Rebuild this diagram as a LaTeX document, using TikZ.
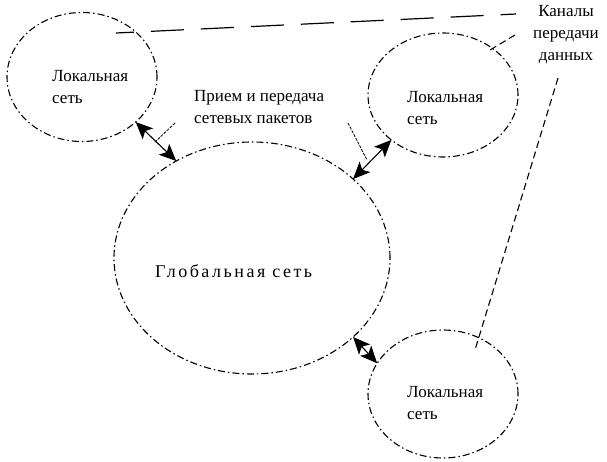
\documentclass[tikz,border=0pt]{standalone}
\usepackage{fontspec}
\setmainfont{Liberation Serif}
\usetikzlibrary{shapes.geometric,arrows.meta}
\tikzset{
  net/.style={ellipse, draw, line width=1.1pt, dash pattern=on 7pt off 3pt on 1.5pt off 3pt, inner sep=0pt, outer sep=0pt},
  lbl/.style={inner sep=0pt, font=\fontsize{17}{22}\selectfont},
  biarrow/.style={line width=1.1pt, {Stealth[length=17pt,width=15pt,inset=4pt]}-{Stealth[length=17pt,width=15pt,inset=4pt]}},
  pointer/.style={line width=0.8pt, dash pattern=on 3pt off 1.2pt},
  chanlong/.style={line width=1.2pt, dash pattern=on 33pt off 17pt, dash phase=15pt},
  chan/.style={line width=1.1pt, dash pattern=on 7pt off 4pt}
}
\begin{document}
\begin{tikzpicture}[x=1pt,y=-1pt]
\useasboundingbox (0,0) rectangle (607,462);
% circles
\node[net, minimum width=150pt, minimum height=129pt] (l1) at (82,77) {};
\node[net, minimum width=150pt, minimum height=124pt] (r1) at (443,95) {};
\node[net, minimum width=150pt, minimum height=128pt] (r2) at (443,394) {};
\node[net, minimum width=276pt, minimum height=232pt] (big) at (252,258) {};
% texts
\node[lbl, align=left, anchor=west] (t1) at (52,87) {Локальная\\сеть};
\node[lbl, align=left, anchor=west] (t2) at (407,108) {Локальная\\сеть};
\node[lbl, align=left, anchor=west] (t3) at (407,403) {Локальная\\сеть};
\node[lbl, anchor=west, font=\fontsize{18}{22}\selectfont\addfontfeature{LetterSpace=14}] (tg) at (155,271) {Глобальная сеть};
\node[lbl, align=left, anchor=west] (mid) at (194,107) {Прием и передача\\сетевых пакетов};
\node[lbl, align=center] (ch) at (566,35) {Каналы\\передачи\\данных};
% arrows
\draw[biarrow] (l1.-40) -- (big.128);
\draw[biarrow] (r1.221) -- (big.38);
\draw[biarrow] (big.-38) -- (r2.155);
% pointers from the middle label
\coordinate (pa) at (175,123);
\coordinate (pb) at (155,142);
\coordinate (pc) at (348,123);
\coordinate (pd) at (367,160);
\draw[pointer] (pa) -- (pb);
\draw[pointer] (pc) -- (pd);
% channels
\coordinate (c1a) at (516,14);
\coordinate (c1b) at (116,33);
\coordinate (c2a) at (515,35);
\coordinate (c2b) at (490,50);
\coordinate (c3a) at (558,78);
\coordinate (c3b) at (475,350);
\draw[chanlong] (c1b) -- (c1a);
\draw[chan] (c2a) -- (c2b);
\draw[chan] (c3a) -- (c3b);
\end{tikzpicture}
\end{document}
